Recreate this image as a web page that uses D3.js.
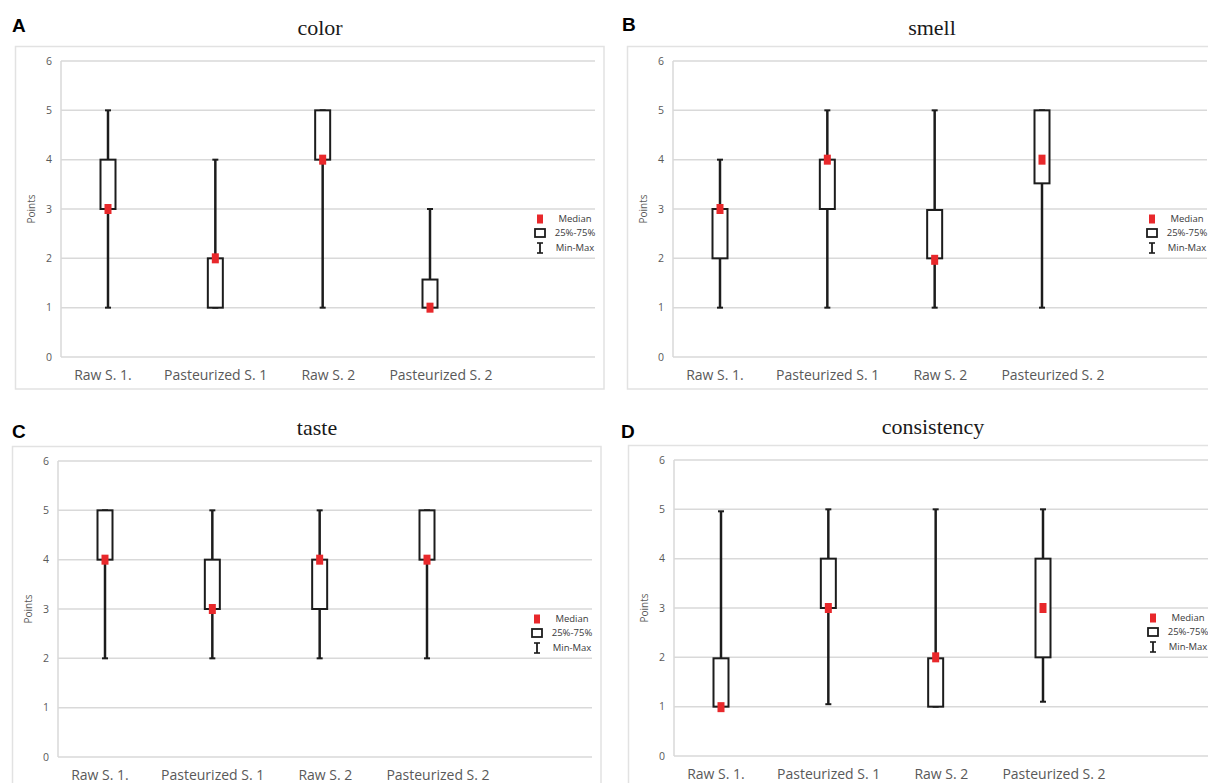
<!DOCTYPE html>
<html>
<head>
<meta charset="utf-8">
<script src="https://cdn.jsdelivr.net/npm/d3@7"></script>
<style>
  body { margin: 0; background: #fff; }
  svg { display: block; }
</style>
</head>
<body>
<svg id="chart" width="1208" height="783"></svg>
<script>
// ---------- data ----------
const categories = ["Raw S. 1.", "Pasteurized S. 1", "Raw S. 2", "Pasteurized S. 2"];
const yTicks = [0, 1, 2, 3, 4, 5, 6];
const legendLabels = ["Median", "25%-75%", "Min-Max"];
const panelTitles = ["color", "smell", "taste", "consistency"];
const panelLetters = ["A", "B", "C", "D"];
const yAxisLabel = "Points";

const colorMin    = [1, 1, 1, 1];
const colorMax    = [5, 4, 5, 3];
const colorQ1     = [3, 1, 4, 1];
const colorQ3     = [4, 2, 5, 1.57];
const colorMedian = [3, 2, 4, 1];

const smellMin    = [1, 1, 1, 1];
const smellMax    = [4, 5, 5, 5];
const smellQ1     = [2, 3, 2, 3.52];
const smellQ3     = [3, 4, 2.98, 5];
const smellMedian = [3, 4, 1.97, 4];

const tasteMin    = [2, 2, 2, 2];
const tasteMax    = [5, 5, 5, 5];
const tasteQ1     = [4, 3, 3, 4];
const tasteQ3     = [5, 4, 4, 5];
const tasteMedian = [4, 3, 4, 4];

const consMin    = [1, 1.05, 1, 1.1];
const consMax    = [4.96, 5, 5, 5];
const consQ1     = [1, 3, 1, 2];
const consQ3     = [1.98, 4, 1.98, 4];
const consMedian = [0.99, 3, 2, 3];

const seriesSets = [
  { min: colorMin, max: colorMax, q1: colorQ1, q3: colorQ3, median: colorMedian },
  { min: smellMin, max: smellMax, q1: smellQ1, q3: smellQ3, median: smellMedian },
  { min: tasteMin, max: tasteMax, q1: tasteQ1, q3: tasteQ3, median: tasteMedian },
  { min: consMin,  max: consMax,  q1: consQ1,  q3: consQ3,  median: consMedian }
];

// ---------- layout ----------
const layout = [
  { ox: 0,   oy: 0,   lx: 12, ly: 32 },
  { ox: 612, oy: 0,   lx: 10, ly: 31 },
  { ox: -3,  oy: 400, lx: 15, ly: 38 },
  { ox: 613, oy: 399, lx: 8,  ly: 39 }
];

const GRID = "#d9d9d9";
const TXT = "#595959";
const INK = "#1c1c1c";
const RED = "#e8282b";

const svg = d3.select("#chart");

panelTitles.forEach((title, i) => {
  const L = layout[i];
  const S = seriesSets[i];
  const g = svg.append("g").attr("transform", `translate(${L.ox},${L.oy})`);

  // frame
  g.append("rect")
    .attr("x", 15.5).attr("y", 46.5)
    .attr("width", 588.5).attr("height", 342.5)
    .attr("fill", "none").attr("stroke", "#e2e2e2").attr("stroke-width", 1.5);

  // panel letter
  g.append("text")
    .attr("x", L.lx).attr("y", L.ly)
    .attr("font-family", "Liberation Sans, Arial, sans-serif")
    .attr("font-weight", "bold").attr("font-size", 19)
    .attr("fill", "#000")
    .text(panelLetters[i]);

  // title
  g.append("text")
    .attr("x", 320).attr("y", 35)
    .attr("text-anchor", "middle")
    .attr("font-family", "Liberation Serif, Times New Roman, serif")
    .attr("font-size", 22).attr("fill", "#1a1a1a")
    .text(title);

  const plotL = 61, plotR = 595;
  const y = d3.scaleLinear().domain([0, 6]).range([357, 61]);
  const xLab = d3.scalePoint().domain(categories).range([103, 441]);
  const xMark = d3.scalePoint().domain(categories).range([108, 430]);

  // gridlines
  g.append("g").selectAll("line").data(yTicks).join("line")
    .attr("x1", plotL).attr("x2", plotR)
    .attr("y1", d => y(d)).attr("y2", d => y(d))
    .attr("stroke", GRID).attr("stroke-width", 1.5);

  // left axis line
  g.append("line")
    .attr("x1", plotL).attr("x2", plotL)
    .attr("y1", y(6)).attr("y2", y(0))
    .attr("stroke", GRID).attr("stroke-width", 1.5);

  // y tick labels
  g.append("g").selectAll("text").data(yTicks).join("text")
    .attr("x", plotL - 9).attr("y", d => y(d))
    .attr("dy", "0.35em").attr("text-anchor", "end")
    .attr("font-family", "Open Sans, sans-serif").attr("font-size", 10.5)
    .attr("fill", TXT)
    .text(d => d);

  // y axis title
  g.append("text")
    .attr("transform", `translate(31,${y(3)}) rotate(-90)`)
    .attr("text-anchor", "middle").attr("dy", "0.35em")
    .attr("font-family", "Open Sans, sans-serif").attr("font-size", 10)
    .attr("fill", TXT)
    .text(yAxisLabel);

  // x labels
  g.append("g").selectAll("text").data(categories).join("text")
    .attr("x", d => xLab(d)).attr("y", 380)
    .attr("text-anchor", "middle")
    .attr("font-family", "Open Sans, sans-serif").attr("font-size", 14)
    .attr("fill", TXT)
    .text(d => d);

  const rows = categories.map((c, k) => ({
    c, min: S.min[k], max: S.max[k], q1: S.q1[k], q3: S.q3[k], med: S.median[k]
  }));

  const marks = g.append("g");
  // whiskers
  marks.selectAll("line.wh").data(rows).join("line").attr("class", "wh")
    .attr("x1", d => xMark(d.c)).attr("x2", d => xMark(d.c))
    .attr("y1", d => y(d.min)).attr("y2", d => y(d.max))
    .attr("stroke", INK).attr("stroke-width", 2.5);
  // caps
  ["min", "max"].forEach(k => {
    marks.selectAll("line.cap" + k).data(rows).join("line").attr("class", "cap" + k)
      .attr("x1", d => xMark(d.c) - 3).attr("x2", d => xMark(d.c) + 3)
      .attr("y1", d => y(d[k])).attr("y2", d => y(d[k]))
      .attr("stroke", INK).attr("stroke-width", 2);
  });
  // boxes
  marks.selectAll("rect.box").data(rows).join("rect").attr("class", "box")
    .attr("x", d => xMark(d.c) - 7.5).attr("width", 15)
    .attr("y", d => y(d.q3)).attr("height", d => y(d.q1) - y(d.q3))
    .attr("fill", "#fff").attr("stroke", INK).attr("stroke-width", 2);
  // medians
  marks.selectAll("rect.med").data(rows).join("rect").attr("class", "med")
    .attr("x", d => xMark(d.c) - 3.5).attr("width", 7)
    .attr("y", d => y(d.med) - 5).attr("height", 10)
    .attr("fill", RED);

  // legend
  const lg = g.append("g").attr("transform", "translate(540,0)");
  const rowsY = [219, 233, 248];
  lg.append("rect").attr("x", -3).attr("y", rowsY[0] - 4.5).attr("width", 6).attr("height", 9).attr("fill", RED);
  lg.append("rect").attr("x", -5).attr("y", rowsY[1] - 4).attr("width", 10).attr("height", 8)
    .attr("fill", "#fff").attr("stroke", INK).attr("stroke-width", 1.8);
  lg.append("line").attr("x1", 0).attr("x2", 0).attr("y1", rowsY[2] - 5).attr("y2", rowsY[2] + 5)
    .attr("stroke", INK).attr("stroke-width", 1.8);
  lg.append("line").attr("x1", -3).attr("x2", 3).attr("y1", rowsY[2] - 5).attr("y2", rowsY[2] - 5)
    .attr("stroke", INK).attr("stroke-width", 1.6);
  lg.append("line").attr("x1", -3).attr("x2", 3).attr("y1", rowsY[2] + 5).attr("y2", rowsY[2] + 5)
    .attr("stroke", INK).attr("stroke-width", 1.6);
  lg.selectAll("text").data(legendLabels).join("text")
    .attr("x", 35).attr("y", (d, k) => rowsY[k])
    .attr("dy", "0.35em").attr("text-anchor", "middle")
    .attr("font-family", "Open Sans, sans-serif").attr("font-size", 9.5)
    .attr("fill", "#3a3a3a")
    .text(d => d);
});
</script>
</body>
</html>
